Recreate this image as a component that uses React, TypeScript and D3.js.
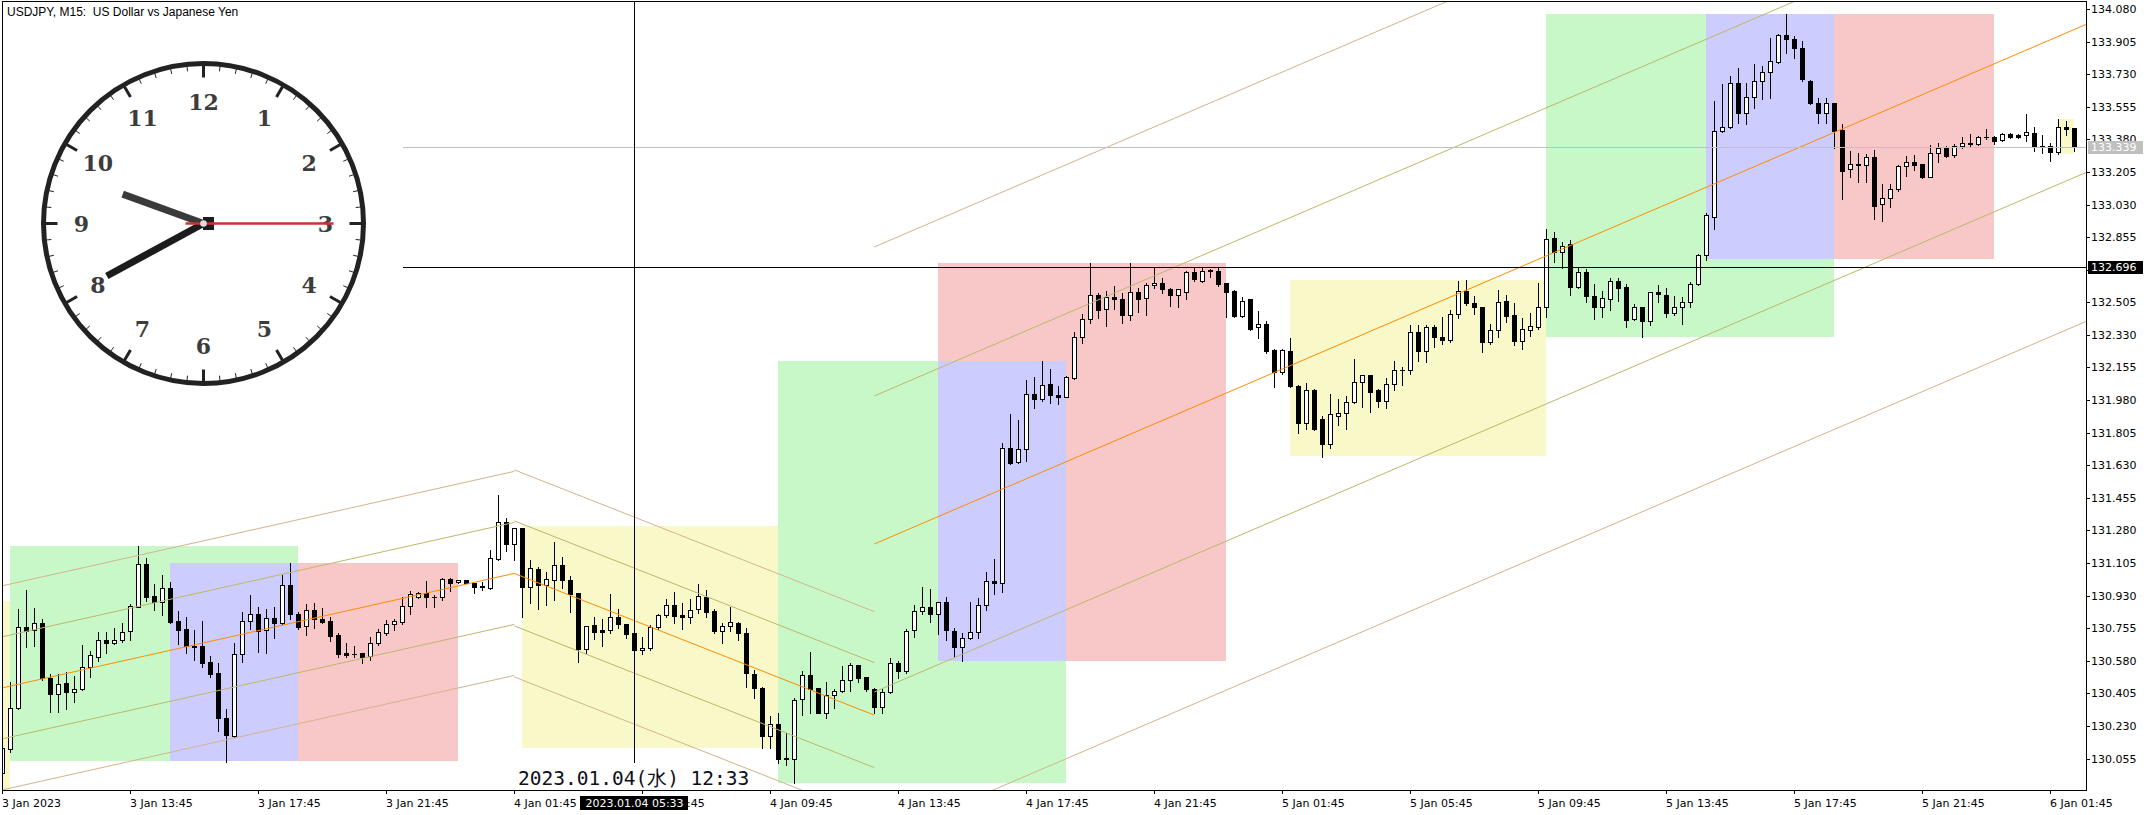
import React from 'react';
import * as d3 from 'd3';

const W = 2156;
const H = 815;
const PL = 2, PT = 2, PR = 2086, PB = 790;

const opens = [
129.979,130.104,130.328,130.759,130.745,130.781,130.485,130.400,130.459,130.410,
130.430,130.544,130.602,130.689,130.673,130.689,130.738,130.870,131.099,130.928,
130.894,130.969,130.793,130.749,130.661,130.659,130.573,130.516,130.272,130.178,
130.614,130.795,130.831,130.743,130.809,130.781,130.985,130.829,130.766,130.851,
130.804,130.793,130.718,130.621,130.618,130.621,130.605,130.673,130.731,130.775,
130.790,130.874,130.920,130.945,130.924,130.920,131.017,131.001,131.012,130.997,
130.981,130.972,131.126,131.323,131.205,131.291,130.978,131.071,130.985,131.013,
131.092,131.013,130.942,130.645,130.770,130.743,130.743,130.815,130.775,130.727,
130.636,130.647,130.759,130.826,130.877,130.826,130.813,130.856,130.924,130.847,
130.740,130.768,130.781,130.727,130.509,130.434,130.178,130.242,130.059,130.050,
130.373,130.502,130.432,130.301,130.394,130.416,130.475,130.555,130.491,130.426,
130.330,130.414,130.566,130.527,130.745,130.847,130.867,130.829,130.894,130.742,
130.656,130.704,130.733,130.877,131.010,130.996,131.724,131.645,131.716,132.011,
131.984,132.064,132.005,131.998,132.097,132.317,132.413,132.544,132.471,132.532,
132.521,132.438,132.559,132.526,132.596,132.607,132.576,132.542,132.562,132.666,
132.621,132.677,132.671,132.607,132.565,132.433,132.521,132.374,132.388,132.249,
132.129,132.243,132.056,131.855,132.034,131.878,131.742,131.896,131.909,131.968,
132.075,132.113,132.034,131.977,132.065,132.141,132.141,132.344,132.245,132.371,
132.320,132.302,132.442,132.564,132.499,132.478,132.294,132.354,132.510,132.437,
132.299,132.356,132.374,132.478,132.849,132.777,132.816,132.585,132.669,132.539,
132.482,132.521,132.619,132.589,132.413,132.478,132.406,132.559,132.544,132.446,
132.478,132.505,132.601,132.757,132.961,133.425,133.445,133.681,133.520,133.609,
133.693,133.742,133.797,133.940,133.917,133.869,133.693,133.577,133.520,133.573,
133.430,133.219,133.244,133.240,133.283,133.031,133.063,133.112,133.237,133.260,
133.246,133.180,133.305,133.332,133.296,133.346,133.353,133.355,133.391,133.394,
133.376,133.407,133.403,133.403,133.412,133.344,133.344,133.314,133.445,133.439
];
const highs = [
130.115,130.468,130.856,130.960,130.865,130.802,130.507,130.507,130.518,130.498,
130.664,130.634,130.732,130.732,130.757,130.781,130.885,131.196,131.130,130.992,
131.040,131.001,130.847,130.815,130.745,130.793,130.605,130.566,130.319,130.677,
130.840,130.933,130.870,130.856,130.870,131.040,131.107,130.843,130.885,130.888,
130.865,130.815,130.727,130.673,130.659,130.624,130.706,130.749,130.799,130.804,
130.920,130.954,130.951,131.010,130.933,131.022,131.022,131.015,131.014,130.999,
131.005,131.175,131.470,131.345,131.294,131.294,131.121,131.085,131.055,131.219,
131.139,131.037,130.945,130.768,130.817,130.802,130.937,130.856,130.779,130.731,
130.709,130.772,130.831,130.913,130.949,130.888,130.910,130.990,130.960,130.860,
130.781,130.870,130.790,130.757,130.530,130.441,130.283,130.297,130.190,130.378,
130.527,130.625,130.436,130.468,130.428,130.553,130.570,130.559,130.494,130.432,
130.432,130.593,130.579,130.750,130.879,130.974,130.963,130.898,130.920,130.758,
130.727,130.894,130.915,131.055,131.125,131.748,131.903,131.873,132.088,132.106,
132.190,132.145,132.055,132.109,132.345,132.440,132.714,132.557,132.566,132.593,
132.553,132.714,132.584,132.610,132.693,132.633,132.584,132.579,132.675,132.693,
132.696,132.682,132.693,132.610,132.571,132.532,132.525,132.458,132.404,132.252,
132.252,132.312,132.061,132.073,132.038,131.894,132.011,131.984,132.002,132.199,
132.117,132.117,132.038,132.097,132.190,132.159,132.383,132.383,132.381,132.383,
132.424,132.464,132.621,132.625,132.541,132.482,132.387,132.571,132.544,132.499,
132.419,132.449,132.610,132.897,132.881,132.827,132.839,132.687,132.682,132.601,
132.568,132.634,132.634,132.603,132.494,132.482,132.562,132.598,132.580,132.539,
132.532,132.612,132.764,132.983,133.586,133.675,133.720,133.762,133.681,133.783,
133.776,133.923,133.946,134.053,133.935,133.908,133.697,133.604,133.600,133.577,
133.461,133.319,133.305,133.301,133.323,133.140,133.140,133.242,133.291,133.296,
133.249,133.350,133.358,133.346,133.355,133.391,133.407,133.398,133.434,133.398,
133.412,133.416,133.407,133.514,133.448,133.403,133.362,133.489,133.480,133.443
];
const lows = [
129.970,130.092,130.319,130.656,130.661,130.477,130.306,130.306,130.321,130.360,
130.423,130.494,130.580,130.623,130.670,130.679,130.691,130.867,130.903,130.852,
130.827,130.781,130.670,130.623,130.584,130.548,130.494,130.204,130.038,130.172,
130.575,130.749,130.629,130.620,130.700,130.777,130.804,130.749,130.718,130.754,
130.781,130.688,130.598,130.602,130.602,130.570,130.584,130.664,130.720,130.745,
130.777,130.833,130.918,130.870,130.870,130.906,130.956,130.999,130.996,130.942,
130.960,130.963,131.121,131.171,131.121,130.813,130.892,130.856,130.881,130.906,
130.969,130.840,130.575,130.623,130.698,130.661,130.727,130.754,130.700,130.611,
130.614,130.638,130.750,130.817,130.784,130.749,130.784,130.838,130.817,130.727,
130.677,130.741,130.691,130.441,130.378,130.110,130.110,130.033,130.020,129.922,
130.289,130.301,130.298,130.271,130.328,130.412,130.416,130.468,130.419,130.300,
130.300,130.408,130.486,130.512,130.709,130.829,130.790,130.722,130.691,130.598,
130.579,130.695,130.704,130.852,130.937,130.951,131.635,131.640,131.654,131.935,
131.977,131.962,131.957,131.994,132.091,132.285,132.395,132.419,132.378,132.467,
132.395,132.410,132.454,132.437,132.584,132.553,132.487,132.481,132.524,132.619,
132.616,132.642,132.594,132.428,132.428,132.428,132.356,132.311,132.231,132.052,
132.120,132.052,131.805,131.823,131.820,131.676,131.725,131.846,131.823,131.962,
131.945,131.918,131.945,131.936,132.034,132.061,132.118,132.192,132.186,132.263,
132.279,132.292,132.419,132.490,132.442,132.236,132.279,132.317,132.401,132.276,
132.254,132.324,132.360,132.424,132.723,132.687,132.544,132.583,132.508,132.415,
132.428,132.464,132.512,132.370,132.410,132.317,132.383,132.508,132.428,132.435,
132.387,132.481,132.598,132.732,132.897,133.421,133.441,133.470,133.461,133.547,
133.599,133.604,133.788,133.842,133.815,133.693,133.568,133.466,133.470,133.335,
133.060,133.176,133.153,133.153,132.952,132.943,133.015,133.103,133.185,133.215,
133.171,133.176,133.260,133.283,133.283,133.335,133.341,133.352,133.380,133.355,
133.373,133.385,133.385,133.373,133.319,133.308,133.265,133.301,133.403,133.319
];
const closes = [
130.110,130.328,130.759,130.740,130.781,130.485,130.403,130.453,130.414,130.426,
130.544,130.609,130.689,130.673,130.689,130.732,130.874,131.098,130.924,130.895,
130.969,130.790,130.747,130.659,130.652,130.570,130.511,130.274,130.181,130.616,
130.791,130.829,130.741,130.808,130.781,130.985,130.829,130.763,130.851,130.802,
130.790,130.715,130.614,130.613,130.617,130.602,130.673,130.732,130.775,130.791,
130.874,130.937,130.945,130.920,130.922,131.017,130.999,131.013,130.996,130.978,
130.974,131.130,131.323,131.205,131.291,130.978,131.076,130.985,131.017,131.092,
131.013,130.938,130.641,130.768,130.736,130.736,130.815,130.779,130.725,130.636,
130.647,130.759,130.826,130.877,130.822,130.813,130.851,130.928,130.843,130.740,
130.768,130.786,130.727,130.512,130.432,130.178,130.242,130.054,130.050,130.367,
130.502,130.426,130.301,130.396,130.416,130.475,130.555,130.489,130.426,130.330,
130.414,130.566,130.527,130.740,130.847,130.867,130.829,130.894,130.745,130.656,
130.704,130.733,130.877,131.010,130.996,131.724,131.640,131.716,132.011,131.984,
132.063,132.005,131.998,132.104,132.317,132.413,132.544,132.463,132.532,132.521,
132.438,132.559,132.524,132.598,132.607,132.575,132.542,132.575,132.666,132.628,
132.675,132.671,132.603,132.562,132.433,132.512,132.361,132.388,132.245,132.132,
132.249,132.057,131.859,132.034,131.823,131.742,131.903,131.909,131.968,132.075,
132.113,132.025,131.977,132.065,132.141,132.141,132.344,132.245,132.371,132.320,
132.302,132.442,132.564,132.499,132.478,132.294,132.354,132.505,132.433,132.299,
132.360,132.378,132.478,132.843,132.777,132.807,132.585,132.669,132.541,132.482,
132.526,132.619,132.584,132.410,132.478,132.406,132.559,132.548,132.446,132.478,
132.505,132.601,132.757,132.972,133.425,133.445,133.681,133.520,133.609,133.693,
133.742,133.801,133.940,133.917,133.869,133.702,133.577,133.520,133.573,133.427,
133.212,133.246,133.246,133.283,133.024,133.063,133.112,133.237,133.260,133.242,
133.180,133.305,133.332,133.292,133.346,133.358,133.358,133.391,133.394,133.373,
133.407,133.394,133.394,133.418,133.341,133.342,133.314,133.445,133.434,133.339
];

const timeTickBars = [0, 16, 32, 48, 64, 80, 96, 112, 128, 144, 160, 176, 192, 208, 224, 240, 256];
const timeTickLabels = [
  '3 Jan 2023', '3 Jan 13:45', '3 Jan 17:45', '3 Jan 21:45', '4 Jan 01:45', '4 Jan 05:45',
  '4 Jan 09:45', '4 Jan 13:45', '4 Jan 17:45', '4 Jan 21:45', '5 Jan 01:45', '5 Jan 05:45',
  '5 Jan 09:45', '5 Jan 13:45', '5 Jan 17:45', '5 Jan 21:45', '6 Jan 01:45'
];
const priceTicks = [
  130.055, 130.230, 130.405, 130.580, 130.755, 130.930, 131.105, 131.280, 131.455, 131.630,
  131.805, 131.980, 132.155, 132.330, 132.505, 132.680, 132.855, 133.030, 133.205, 133.380,
  133.555, 133.730, 133.905, 134.080
];

// session boxes (drawn in this order)
const sessionKinds = ['Y', 'G', 'P', 'B', 'Y', 'G', 'P', 'B', 'Y', 'G', 'P', 'B', 'Y'];
const sessionFrom = [-4, 1, 21, 21, 65, 97, 117, 117, 161, 193, 213, 213, 257];
const sessionTo = [1, 37, 57, 37, 97, 133, 153, 133, 193, 229, 249, 229, 259];
const sessionHigh = [130.901, 131.196, 131.105, 131.103, 131.303, 132.190, 132.717, 132.190, 132.625, 134.053, 134.053, 134.053, 133.489];
const sessionLow = [129.850, 130.043, 130.043, 130.043, 130.113, 129.925, 130.580, 130.580, 131.681, 132.320, 132.737, 132.737, 133.303];
const sessionColors: Record<string, string> = { Y: '#F8F8C8', G: '#C8F8C8', B: '#CCCCFF', P: '#F8C8C8' };

// channels
const chStartBar = [0, 64, 109];
const chEndBar = [64, 109, 259];
const chStartMid = [130.4345, 131.049, 131.207];
const chEndMid = [131.049, 130.288, 133.97];
const chInner = [0.274, 0.282, 0.795];
const chOuter = [0.548, 0.556, 1.595];
const chRay = [false, false, true];

const crossBar = 79;
const crossPrice = 132.696;
const crossTimeLabel = '2023.01.04 05:33';
const localTimeText = '2023.01.04(水) 12:33';
const titleText = 'USDJPY, M15:  US Dollar vs Japanese Yen';

const clockHour = 9, clockMinute = 40, clockSecond = 15;
const clockNumbers = [12, 1, 2, 3, 4, 5, 6, 7, 8, 9, 10, 11];

const FONT = 'DejaVu Sans';

export default function App() {
  const x = d3.scaleLinear().domain([0, 256]).range([2.3, 2050.3]);
  const y = d3.scaleLinear().domain([130.055, 134.08]).range([758.5, 9]);
  const n = closes.length;

  const candles = d3.range(n).map((i) => {
    const cx = Math.round(x(i));
    const o = opens[i], c = closes[i];
    const yt = Math.round(y(Math.max(o, c)));
    const yb = Math.round(y(Math.min(o, c)));
    const yh = Math.round(y(highs[i]));
    const yl = Math.round(y(lows[i]));
    const bull = c >= o;
    return (
      <g key={i}>
        <line x1={cx + 0.5} x2={cx + 0.5} y1={yh} y2={yl + 1} stroke="#000" strokeWidth={1} />
        {yb - yt < 1 ? (
          <line x1={cx - 2} x2={cx + 3} y1={yt + 0.5} y2={yt + 0.5} stroke="#000" strokeWidth={1} />
        ) : (
          <rect x={cx - 1.5} y={yt + 0.5} width={4} height={yb - yt} fill={bull ? '#fff' : '#000'} stroke="#000" strokeWidth={1} />
        )}
      </g>
    );
  });

  const sessions = sessionKinds.map((k, i) => {
    const x0 = Math.round(x(sessionFrom[i]));
    const x1 = Math.round(x(sessionTo[i]));
    const y0 = Math.round(y(sessionHigh[i]));
    const y1 = Math.round(y(sessionLow[i]));
    return <rect key={i} x={x0} y={y0} width={x1 - x0} height={y1 - y0} fill={sessionColors[k]} />;
  });

  const lineColors = ['#D2B48C', '#BDB76B', '#FF8C00', '#BDB76B', '#D2B48C'];
  const channels: any[] = [];
  chStartBar.forEach((s, ci) => {
    const e = chEndBar[ci];
    const slope = (chEndMid[ci] - chStartMid[ci]) / (e - s);
    const eDraw = chRay[ci] ? x.invert(PR + 4) : e;
    const midEnd = chStartMid[ci] + slope * (eDraw - s);
    const offs = [chOuter[ci], chInner[ci], 0, -chInner[ci], -chOuter[ci]];
    offs.forEach((off, li) => {
      channels.push(
        <line
          key={`c${ci}-${li}`}
          x1={x(s)}
          y1={y(chStartMid[ci] + off)}
          x2={x(eDraw)}
          y2={y(midEnd + off)}
          stroke={lineColors[li]}
          strokeWidth={1}
        />
      );
    });
  });

  // clock
  const ccx = 203.5, ccy = 223.5;
  const pol = (r: number, deg: number) => {
    const a = (deg * Math.PI) / 180;
    return [ccx + r * Math.sin(a), ccy - r * Math.cos(a)];
  };
  const ticks = d3.range(60).map((m) => {
    const major = m % 5 === 0;
    const [x1, y1] = pol(158, m * 6);
    const [x2, y2] = pol(major ? 146 : 153, m * 6);
    return <line key={m} x1={x1} y1={y1} x2={x2} y2={y2} stroke="#222" strokeWidth={major ? 3 : 1} />;
  });
  const nums = clockNumbers.map((num, i) => {
    const [tx, ty] = pol(122, i * 30);
    return (
      <text key={num} x={tx} y={ty} textAnchor="middle" dominantBaseline="central"
        fontFamily="DejaVu Serif" fontWeight="bold" fontSize={22} fill="#3c3c3c">{num}</text>
    );
  });
  const hourAng = (clockHour + clockMinute / 60) * 30;
  const minAng = (clockMinute + clockSecond / 60) * 6;
  const secAng = clockSecond * 6;
  const [hx, hy] = pol(86, hourAng);
  const [mx, my] = pol(110, minAng);
  const [sx, sy] = pol(130, secAng);
  const [stx, sty] = pol(-18, secAng);

  const yCross = Math.round(y(crossPrice)) + 0.5;
  const lastPrice = closes[n - 1];
  const yLast = Math.round(y(lastPrice)) + 0.5;
  const xCross = Math.round(x(crossBar)) + 0.5;

  return (
    <svg width={W} height={H} style={{ position: 'absolute', left: 0, top: 0, background: '#fff' }}>
      <defs>
        <clipPath id="plot">
          <rect x={PL} y={PT} width={PR - PL} height={PB - PT} />
        </clipPath>
      </defs>
      <rect x={0} y={0} width={W} height={H} fill="#fff" />
      <g clipPath="url(#plot)">
        {sessions}
        {candles}
        {channels}
        <line x1={403} x2={PR} y1={yLast} y2={yLast} stroke="#C0C0C0" strokeWidth={1} />
        <line x1={403} x2={PR} y1={yCross} y2={yCross} stroke="#000" strokeWidth={1} />
        <line x1={xCross} x2={xCross} y1={PT} y2={763} stroke="#000" strokeWidth={1} />
      </g>
      <rect x={PL + 0.5} y={PT - 0.5} width={PR - PL} height={PB - PT + 1} fill="none" stroke="#000" strokeWidth={1} />
      <text x={7} y={16} fontFamily="Liberation Sans" fontSize={12} fill="#000" style={{ whiteSpace: 'pre' }}>{titleText}</text>
      <g>
        <circle cx={ccx} cy={ccy} r={160} fill="#fff" stroke="#222" strokeWidth={5} />
        {ticks}
        {nums}
        <line x1={ccx} y1={ccy} x2={hx} y2={hy} stroke="#3a3a3a" strokeWidth={7} />
        <line x1={ccx} y1={ccy} x2={mx} y2={my} stroke="#1c1c1c" strokeWidth={7} />
        <rect x={203} y={217} width={11} height={13} fill="#1c1c1c" />
        <line x1={stx} y1={sty} x2={sx} y2={sy} stroke="#C83232" strokeWidth={2.5} />
        <circle cx={ccx} cy={ccy} r={3.3} fill="#ddd" />
      </g>
      {priceTicks.map((p) => {
        const yy = Math.round(y(p)) + 0.5;
        return (
          <g key={p}>
            <line x1={PR} x2={PR + 4} y1={yy} y2={yy} stroke="#000" />
            <text x={PR + 5} y={yy} dominantBaseline="central" fontFamily={FONT} fontSize={11} fill="#000">{p.toFixed(3)}</text>
          </g>
        );
      })}
      <rect x={PR + 2} y={yLast - 6.5} width={55} height={13} fill="#C0C0C0" />
      <text x={PR + 5} y={yLast} dominantBaseline="central" fontFamily={FONT} fontSize={11} fill="#fff">{lastPrice.toFixed(3)}</text>
      <rect x={PR + 2} y={yCross - 6.5} width={55} height={13} fill="#000" />
      <text x={PR + 5} y={yCross} dominantBaseline="central" fontFamily={FONT} fontSize={11} fill="#fff">{crossPrice.toFixed(3)}</text>
      {timeTickBars.map((b, i) => {
        const xx = Math.round(x(b)) + 0.5;
        return (
          <g key={b}>
            <line x1={xx} x2={xx} y1={PB} y2={PB + 4} stroke="#000" />
            <text x={xx - 0.5} y={807} fontFamily={FONT} fontSize={11} fill="#000">{timeTickLabels[i]}</text>
          </g>
        );
      })}
      <rect x={xCross - 54.5} y={796} width={108} height={14} fill="#000" />
      <text x={xCross} y={807} textAnchor="middle" fontFamily={FONT} fontSize={11} fill="#fff">{crossTimeLabel}</text>
      <text x={518} y={785} fontFamily="DejaVu Sans Mono" fontSize={19.5} fill="#101018">{localTimeText}</text>
    </svg>
  );
}
